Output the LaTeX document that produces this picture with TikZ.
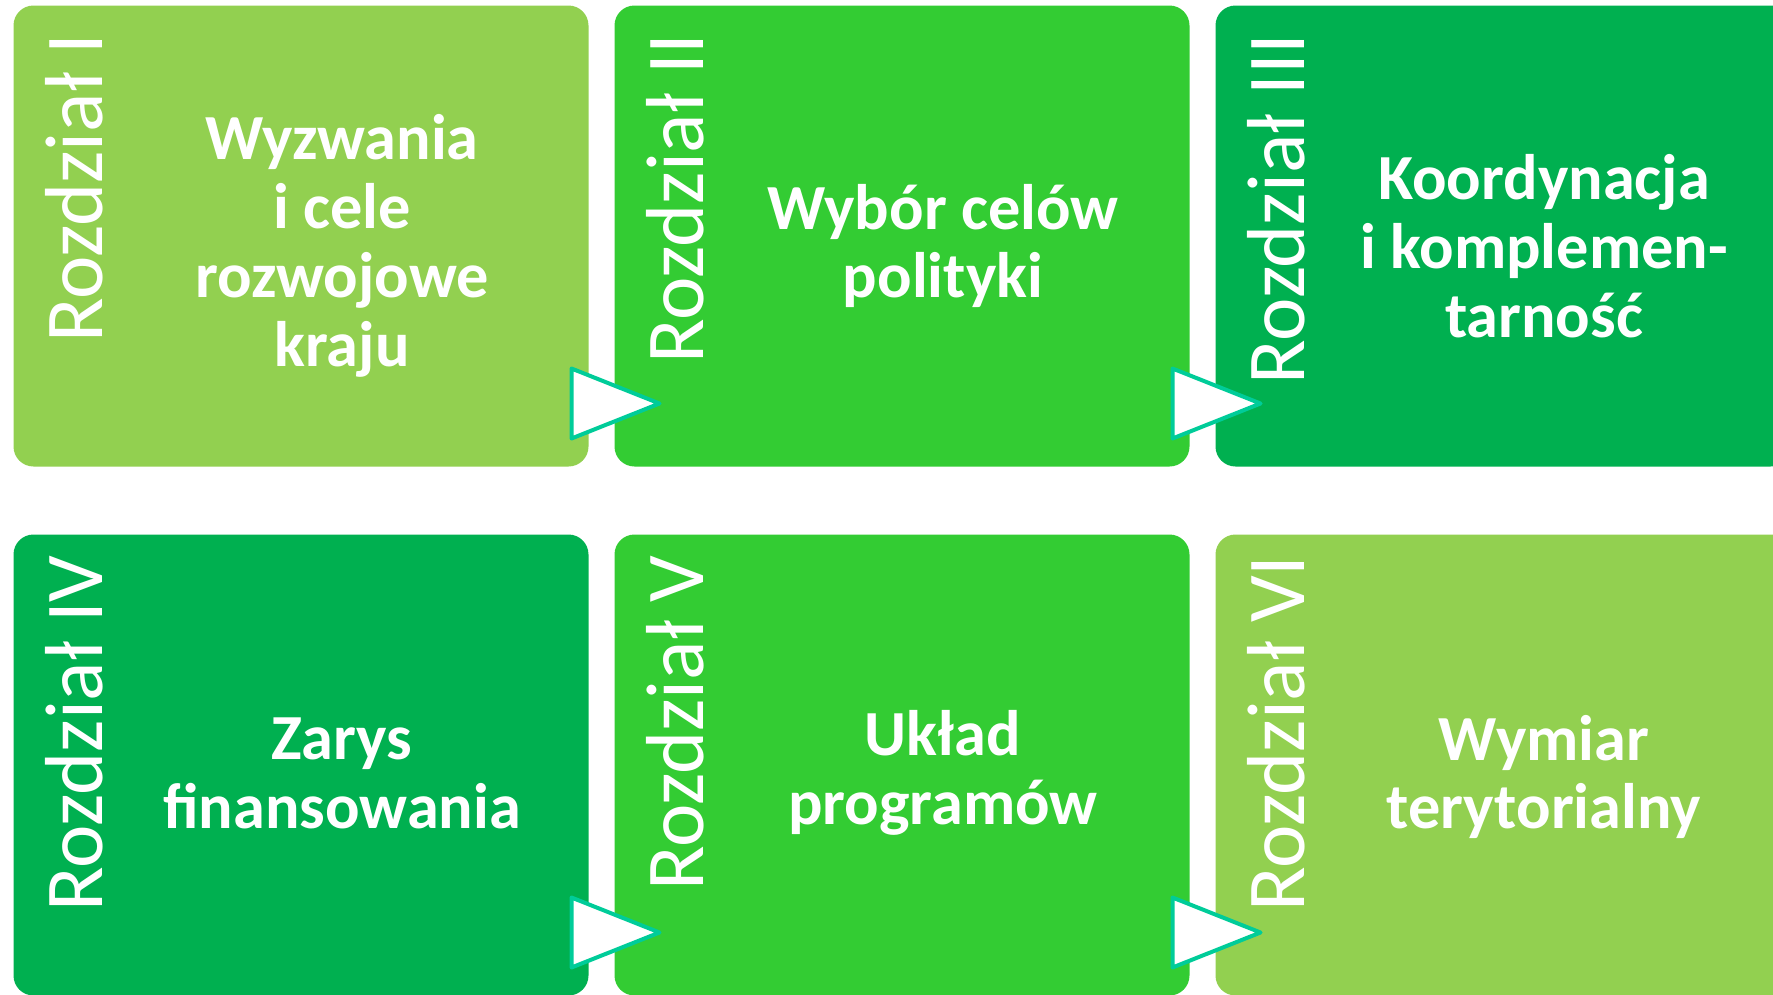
\documentclass[tikz,border=0pt]{standalone}
\usepackage{fontspec}
\setmainfont{Carlito}
\usetikzlibrary{calc}
\definecolor{jasny}{HTML}{92D050}
\definecolor{sredni}{HTML}{33CC33}
\definecolor{ciemny}{HTML}{00B050}
\definecolor{turkus}{HTML}{00CC99}

\begin{document}
\begin{tikzpicture}[x=0.1mm,y=-0.1mm,
  box/.style={fill=#1,rounded corners=2mm,minimum width=57.5mm,minimum height=46.1mm,inner sep=0pt,outer sep=0pt},
  rozdz/.style={rotate=90,anchor=east,inner sep=0pt,text=white,font=\fontsize{23.4}{26}\selectfont},
  tytul/.style={align=center,text=white,font=\bfseries\fontsize{18.3}{19.6}\selectfont},
  strzalka/.style={draw=turkus,fill=white,line width=0.4mm,line join=round}]
\useasboundingbox (0,0) rectangle (1773,994);
% pierwszy rzad
\node [box=jasny] (a) at (301,236) {};
\node [box=sredni] (b) at (902,236) {};
\node [box=ciemny] (c) at (1503,236) {};
% drugi rzad
\node [box=ciemny] (d) at (301,765) {};
\node [box=sredni] (e) at (902,765) {};
\node [box=jasny] (f) at (1503,765) {};
% napisy
\foreach \n/\r in {a/I,b/II,c/III}
  \node [rozdz] (r\n) at ($(\n.north west)+(61,27)$) {Rozdział \r};
\foreach \n/\r in {d/IV,e/V,f/VI}
  \node [rozdz] (r\n) at ($(\n.north west)+(61,20)$) {Rozdział \r};
\node [tytul] (ta) at ($(a.center)+(41,10)$) {Wyzwania\\i cele\\rozwojowe\\kraju};
\node [tytul] (tb) at ($(b.center)+(41,10)$) {Wybór celów\\polityki};
\node [tytul] (tc) at ($(c.center)+(41,10)$) {Koordynacja\\i komplemen-\\tarność};
\node [tytul] (td) at ($(d.center)+(41,8)$) {Zarys\\finansowania};
\node [tytul] (te) at ($(e.center)+(41,8)$) {Układ\\programów};
\node [tytul] (tf) at ($(f.center)+(41,12)$) {Wymiar\\terytorialny};
% strzalki
\foreach \p/\q in {a/b,b/c,d/e,e/f}
  \draw [strzalka] ($(\p.south east)+(-17,-98)$) -- ++(0,70) -- ($(\q.south west)+(45,-63)$) -- cycle;
\end{tikzpicture}
\end{document}
